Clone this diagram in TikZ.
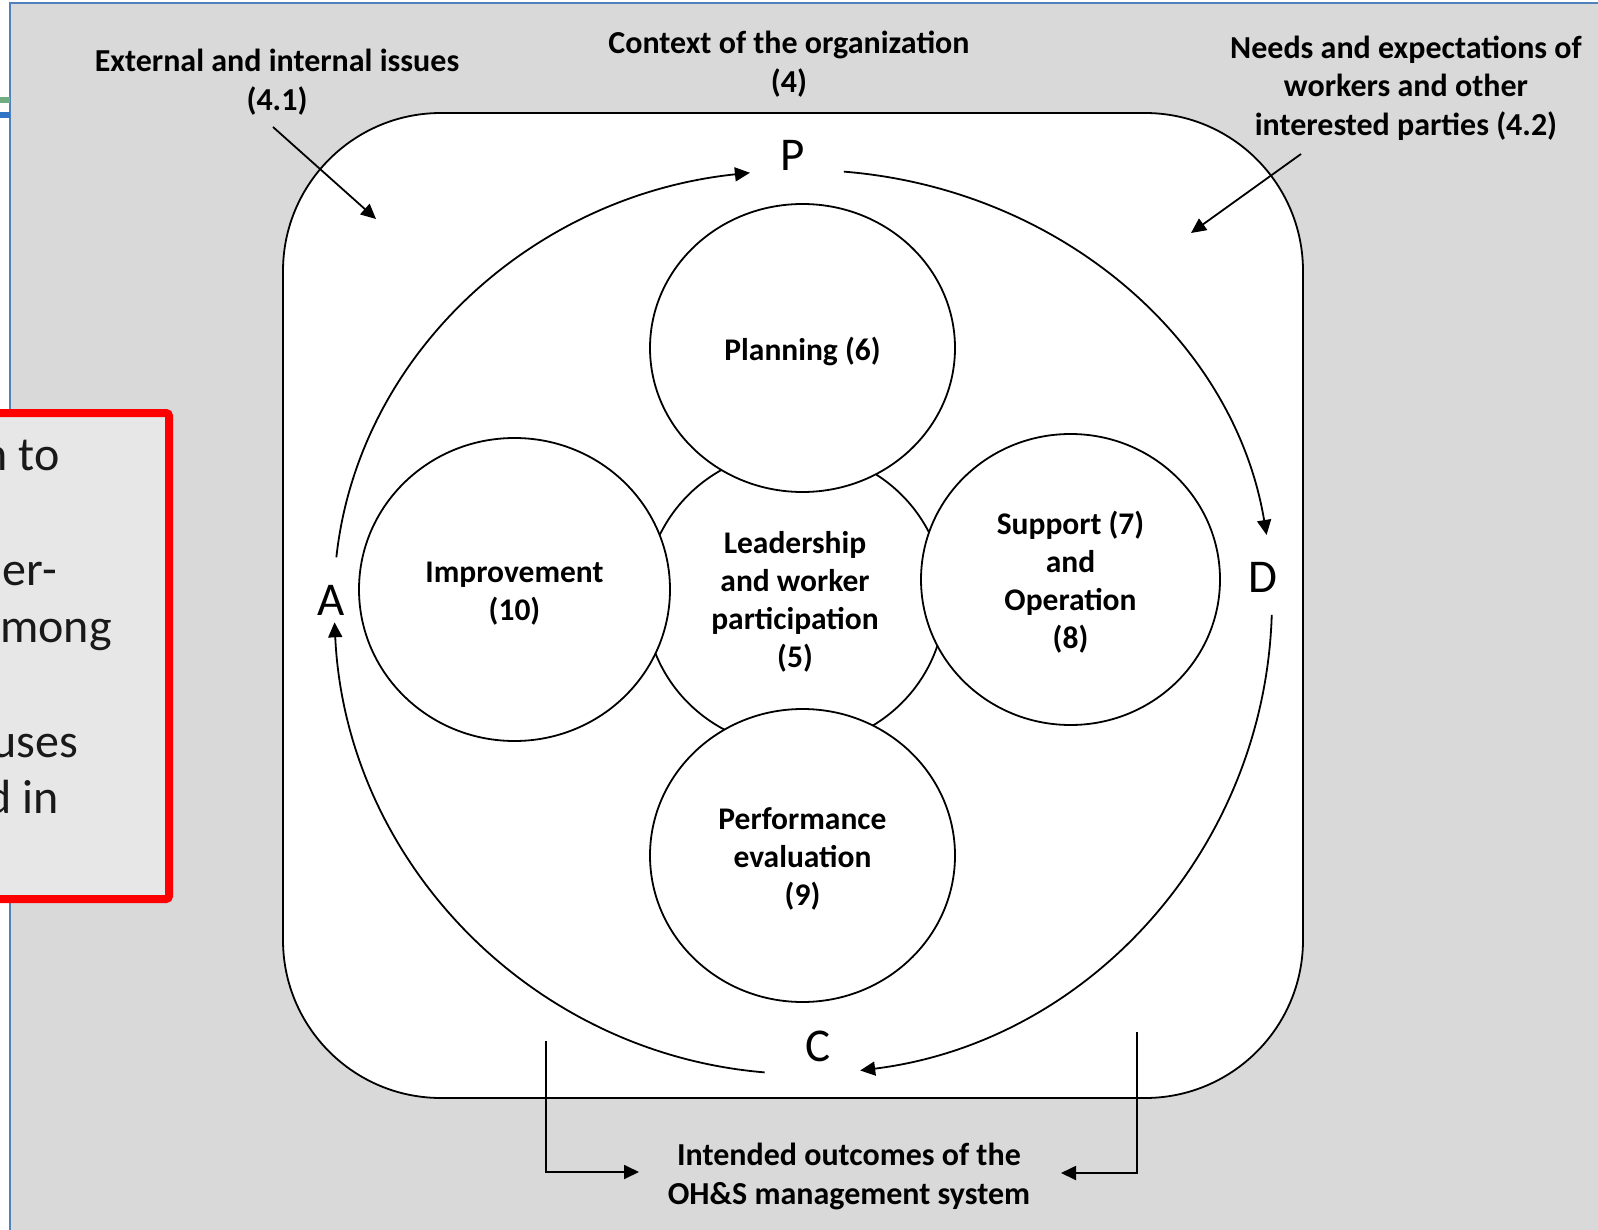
\documentclass[tikz,border=0pt]{standalone}
\usepackage{fontspec}
\setmainfont{Carlito}
\usetikzlibrary{shapes.geometric,arrows.meta,calc}
\definecolor{bggray}{RGB}{217,217,217}
\definecolor{frameblue}{RGB}{79,129,189}
\definecolor{notegray}{RGB}{231,231,231}
\definecolor{lgreen}{RGB}{112,173,130}
\definecolor{lblue}{RGB}{46,117,200}
\definecolor{txt}{RGB}{25,25,25}
\begin{document}
\begin{tikzpicture}[x=1pt,y=-1pt,
  lab/.style={font=\bfseries\fontsize{32}{38.5}\selectfont, align=center, inner sep=0pt},
  ctext/.style={font=\bfseries\fontsize{31.5}{38}\selectfont, align=center, inner sep=0pt},
  ell/.style={ellipse, draw, line width=1.8pt, fill=white, inner sep=0pt},
  cyc/.style={font=\fontsize{47}{56}\selectfont, inner sep=0pt},
  arr/.style={line width=1.8pt, -{Triangle[length=15pt,width=14pt]}},
  frag/.style={font=\fontsize{48}{58}\selectfont, text=txt, anchor=base east, inner sep=0pt}]
\clip (0,0) rectangle (1598,1230);
\fill[white] (0,0) rectangle (1598,1230);
% background panel
\draw[frameblue, line width=2pt, fill=bggray] (10,3) rectangle (1660,1290);
\fill[lgreen] (0,97) rectangle (10,103);
\fill[lblue] (0,112) rectangle (10,118);
% note box at the left
\node[draw=red, line width=8pt, fill=notegray, rounded corners=3pt, minimum width=220pt,
  minimum height=486pt, inner sep=0pt, anchor=north east] (note) at (173,409) {};
\node[frag] (f1) at (60,470) {n to};
\node[frag] (f2) at (57,585) {er-};
\node[frag] (f3) at (112,642) {mong};
\node[frag] (f4) at (78,757) {uses};
\node[frag] (f5) at (59,813) {d in};
% frame
\node[draw, line width=1.8pt, fill=white, rounded corners=158pt, minimum width=1020pt,
  minimum height=985pt, inner sep=0pt] (frame) at (793,605.5) {};
% circles
\node[ell, minimum width=300pt, minimum height=296pt] (lead) at (795,599) {};
\node[ell, minimum width=305pt, minimum height=288pt] (plan) at (802.5,348) {};
\node[ell, minimum width=311pt, minimum height=303pt] (impr) at (514.5,589.5) {};
\node[ell, minimum width=299pt, minimum height=291pt] (supp) at (1070.5,579.5) {};
\node[ell, minimum width=305pt, minimum height=293pt] (perf) at (802.5,855.5) {};
\node[ctext] (leadt) at ([yshift=-3pt]lead.center) {Leadership\\and worker\\participation\\(5)};
\node[ctext] (plant) at ([yshift=-3pt]plan.center) {Planning (6)};
\node[ctext] (imprt) at ([yshift=-4pt]impr.center) {Improvement\\(10)};
\node[ctext] (suppt) at ([yshift=-3pt]supp.center) {Support (7)\\and\\Operation\\(8)};
\node[ctext] (perft) at ([yshift=-3pt]perf.center) {Performance\\evaluation\\(9)};
% PDCA letters
\node[cyc] (P) at (793,155) {P};
\node[cyc] (D) at (1262.5,577) {D};
\node[cyc] (C) at (818,1046) {C};
\node[cyc] (A) at (331.5,600) {A};
% PDCA arcs
\coordinate (o) at (803,600);
\draw[arr] ($(o)+(185.7:469 and 430)$) arc[start angle=185.7, end angle=263.5, x radius=469, y radius=430];
\draw[arr] ($(o)+(275:469 and 430)$) arc[start angle=275, end angle=351.3, x radius=469, y radius=430];
\draw[arr] ($(o)+(1.8:469 and 474)$) arc[start angle=1.8, end angle=83, x radius=469, y radius=474];
\draw[arr] ($(o)+(94.7:469 and 474)$) arc[start angle=94.7, end angle=177.3, x radius=469, y radius=474];
% labels
\node[lab] (ext) at (277,82) {External and internal issues\\(4.1)};
\node[lab] (ctx) at (789,64) {Context of the organization\\(4)};
\node[lab] (needs) at (1406,88) {Needs and expectations of\\workers and other\\interested parties (4.2)};
\node[lab] (out) at (849,1176.5) {Intended outcomes of the\\OH\&S management system};
% arrows
\coordinate (a1s) at (273,127); \coordinate (a1e) at (376,219);
\draw[arr] (a1s) -- (a1e);
\coordinate (a2s) at (1301,154); \coordinate (a2e) at (1191,233);
\draw[arr] (a2s) -- (a2e);
\coordinate (b1s) at (546,1041); \coordinate (b1e) at (639,1172);
\draw[arr] (b1s) |- (b1e);
\coordinate (b2s) at (1137,1032); \coordinate (b2e) at (1061,1173);
\draw[arr] (b2s) |- (b2e);
\end{tikzpicture}
\end{document}
